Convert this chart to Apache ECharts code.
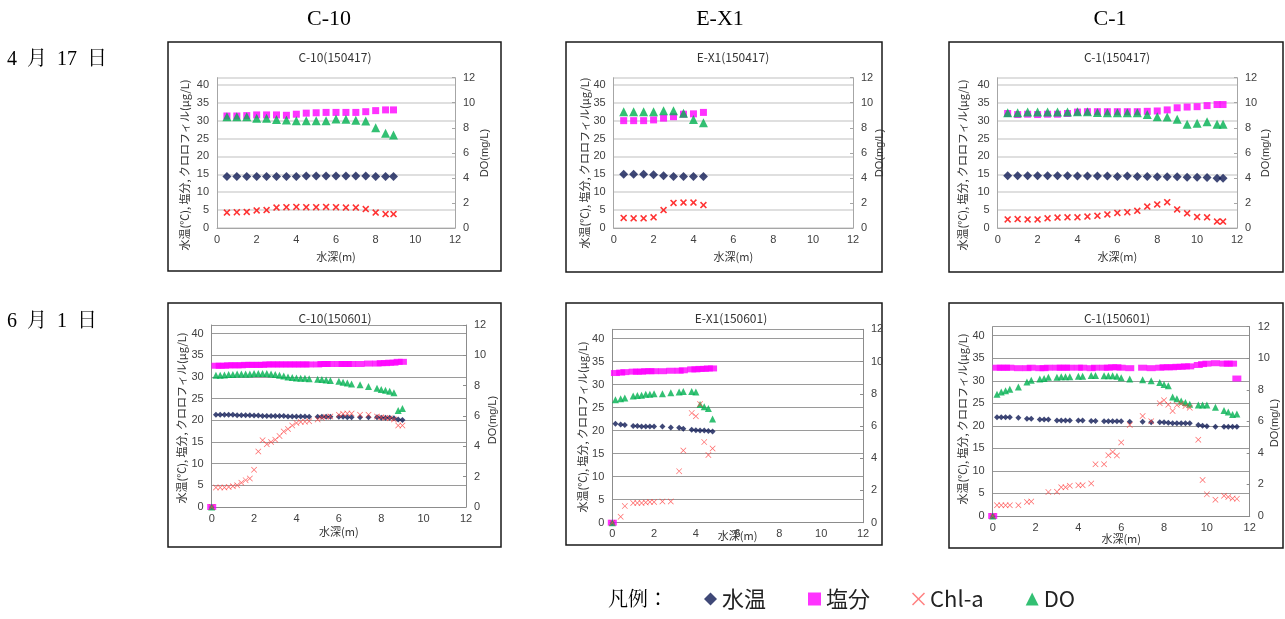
<!DOCTYPE html>
<html><head><meta charset="utf-8">
<script src="https://cdn.jsdelivr.net/npm/echarts@6/dist/echarts.min.js"></script>
<style>html,body{margin:0;padding:0;background:#fff}#c{width:1285px;height:619px}</style>
</head><body><div id="c"></div>
<script>
// ---------------- DATA ----------------
const columnNames = ['C-10', 'E-X1', 'C-1'];
const rowLabels = ['4  月  17  日', '6  月  1  日'];
const panelTitles = ['C-10(150417)', 'E-X1(150417)', 'C-1(150417)', 'C-10(150601)', 'E-X1(150601)', 'C-1(150601)'];
const legendNames = ['水温', '塩分', 'Chl-a', 'DO'];
const leftAxisName = '水温(℃), 塩分, クロロフィル(μg/L)';
const rightAxisName = 'DO(mg/L)';
const xAxisName = '水深(m)';

// C-10 2015-04-17
const c10_0417_depth = [0.5,1,1.5,2,2.5,3,3.5,4,4.5,5,5.5,6,6.5,7,7.5,8,8.5,8.9];
const c10_0417_temp  = [14.4,14.4,14.4,14.4,14.4,14.4,14.4,14.4,14.5,14.5,14.5,14.5,14.5,14.5,14.5,14.4,14.4,14.4];
const c10_0417_sal   = [31.3,31.3,31.4,31.6,31.6,31.6,31.5,31.8,32.1,32.2,32.3,32.3,32.3,32.3,32.5,32.8,33.0,33.0];
const c10_0417_chl   = [4.3,4.4,4.5,4.9,5.0,5.7,5.8,5.9,5.8,5.8,5.9,5.8,5.7,5.7,5.3,4.3,3.9,3.9];
const c10_0417_do    = [8.89,8.89,8.89,8.77,8.77,8.66,8.63,8.57,8.57,8.57,8.57,8.71,8.69,8.60,8.54,8.00,7.57,7.43];

// E-X1 2015-04-17
const ex1_0417_depth = [0.5,1,1.5,2,2.5,3,3.5,4,4.5];
const ex1_0417_temp  = [15.0,15.0,15.0,14.9,14.6,14.4,14.4,14.4,14.4];
const ex1_0417_sal   = [30.0,30.0,30.0,30.2,30.7,31.1,31.8,31.9,32.3];
const ex1_0417_chl   = [2.8,2.7,2.7,3.0,5.0,7.0,7.1,7.1,6.4];
const ex1_0417_do    = [9.29,9.29,9.29,9.29,9.37,9.37,9.17,8.66,8.40];

// C-1 2015-04-17
const c1_0417_depth = [0.5,1,1.5,2,2.5,3,3.5,4,4.5,5,5.5,6,6.5,7,7.5,8,8.5,9,9.5,10,10.5,11,11.3];
const c1_0417_temp  = [14.6,14.6,14.6,14.6,14.6,14.6,14.6,14.5,14.5,14.5,14.5,14.4,14.5,14.4,14.4,14.3,14.3,14.3,14.2,14.2,14.1,13.9,13.9];
const c1_0417_sal   = [32.0,31.7,31.8,31.7,31.8,31.8,32.0,32.4,32.5,32.5,32.5,32.5,32.5,32.5,32.6,32.7,33.0,33.6,33.8,33.9,34.2,34.5,34.5];
const c1_0417_chl   = [2.4,2.5,2.4,2.4,2.7,2.9,3.0,3.0,3.2,3.4,3.8,4.2,4.4,4.8,6.0,6.6,7.2,5.2,4.1,3.1,3.0,1.8,1.8];
const c1_0417_do    = [9.20,9.20,9.26,9.26,9.26,9.26,9.26,9.29,9.29,9.23,9.20,9.20,9.20,9.20,9.06,8.89,8.86,8.69,8.29,8.37,8.49,8.29,8.29];

// C-10 2015-06-01
const c10_0601_depth = [0,0.2,0.4,0.6,0.8,1.0,1.2,1.4,1.6,1.8,2.0,2.2,2.4,2.6,2.8,3.0,3.2,3.4,3.6,3.8,4.0,4.2,4.4,4.6,5.0,5.2,5.4,5.6,6.0,6.2,6.4,6.6,7.0,7.4,7.8,8.0,8.2,8.4,8.6,8.8,9.0];
const c10_0601_temp  = [0,21.3,21.3,21.3,21.3,21.3,21.2,21.2,21.2,21.2,21.1,21.1,21.0,21.0,21.0,21.0,21.0,21.0,20.9,20.9,20.9,20.9,20.9,20.8,20.8,20.8,20.8,20.8,20.8,20.8,20.7,20.7,20.7,20.7,20.7,20.6,20.6,20.6,20.5,20.2,20.1];
const c10_0601_sal   = [0,32.6,32.6,32.6,32.7,32.7,32.7,32.7,32.8,32.8,32.8,32.8,32.8,32.9,32.9,32.9,32.9,32.9,32.9,32.9,32.9,32.9,32.9,32.9,32.9,33.0,33.0,33.0,33.0,33.0,33.0,33.0,33.0,33.1,33.1,33.2,33.2,33.3,33.3,33.5,33.5];
const c10_0601_chl   = [0,4.5,4.5,4.5,4.6,4.8,5.0,5.6,6.2,6.6,8.6,12.8,15.4,14.5,15.0,15.5,16.4,17.4,18.0,18.8,19.4,19.6,19.7,19.8,20.2,20.6,20.8,20.9,21.3,21.5,21.6,21.6,21.3,21.3,20.9,20.7,20.6,20.5,20.2,18.8,18.8];
const c10_0601_do    = [0,8.69,8.69,8.71,8.74,8.74,8.77,8.77,8.77,8.77,8.80,8.80,8.80,8.80,8.77,8.74,8.69,8.63,8.57,8.54,8.51,8.49,8.49,8.46,8.43,8.40,8.37,8.34,8.29,8.23,8.17,8.11,8.06,7.94,7.83,7.74,7.69,7.63,7.54,6.37,6.49];

// E-X1 2015-06-01
const ex1_0601_depth     = [0,0.15,0.4,0.6,1.0,1.2,1.4,1.6,1.8,2.0,2.4,2.8,3.2,3.4,3.8,4.0,4.2,4.4,4.6,4.8];
const ex1_0601_temp      = [0,21.5,21.3,21.2,21.0,21.0,20.9,20.9,20.9,20.9,20.9,20.7,20.6,20.4,20.2,20.1,20.0,20.0,19.9,19.8];
const ex1_0601_sal       = [0,32.5,32.6,32.7,32.8,32.8,32.8,32.9,32.9,32.9,32.9,33.0,33.0,33.1,33.3,33.3,33.4,33.4,33.5,33.5];
const ex1_0601_do        = [0,7.63,7.69,7.74,7.86,7.89,7.91,7.97,7.97,8.00,8.00,8.06,8.11,8.14,8.14,8.11,7.34,7.20,7.09,6.43];
const ex1_0601_chl_depth = [0,0.4,0.6,1.0,1.2,1.4,1.6,1.8,2.0,2.4,2.8,3.2,3.4,3.8,4.0,4.2,4.4,4.6,4.8];
const ex1_0601_chl       = [0,1.3,3.6,4.3,4.3,4.3,4.4,4.5,4.5,4.6,4.6,11.2,15.7,23.8,23.1,25.8,17.5,14.7,16.1];

// C-1 2015-06-01
const c1_0601_depth     = [0,0.2,0.4,0.6,0.8,1.2,1.6,1.8,2.2,2.4,2.6,3.0,3.2,3.4,3.6,4.0,4.2,4.6,4.8,5.2,5.4,5.6,5.8,6.0,6.4,7.0,7.4,7.8,8.0,8.2,8.4,8.6,8.8,9.0,9.2,9.6,9.8,10.0,10.4,10.8,11.0,11.2,11.4];
const c1_0601_temp      = [0,21.9,21.9,21.9,21.9,21.8,21.6,21.6,21.4,21.4,21.4,21.2,21.2,21.2,21.2,21.2,21.2,21.1,21.1,21.0,21.0,21.0,21.0,21.0,20.9,20.9,20.8,20.8,20.8,20.7,20.6,20.6,20.6,20.6,20.6,20.2,20.0,19.9,19.8,19.8,19.8,19.8,19.8];
const c1_0601_sal       = [0,32.9,32.9,32.9,32.9,32.8,32.8,32.9,32.8,32.8,32.9,32.9,32.9,32.9,32.9,32.9,32.9,32.8,32.9,32.9,32.9,33.0,33.0,32.9,32.8,32.9,32.8,32.9,33.0,33.0,33.0,33.1,33.1,33.2,33.2,33.5,33.7,33.8,33.9,33.8,33.8,33.8,30.5];
const c1_0601_do        = [0,7.71,7.86,7.94,8.03,8.17,8.49,8.60,8.69,8.71,8.80,8.80,8.83,8.83,8.83,8.86,8.86,8.91,8.91,8.89,8.89,8.89,8.86,8.77,8.69,8.63,8.57,8.46,8.34,8.26,7.54,7.43,7.29,7.20,7.09,7.03,7.03,7.03,6.89,6.69,6.60,6.43,6.46];
const c1_0601_chl_depth = [0,0.2,0.4,0.6,0.8,1.2,1.6,1.8,2.6,3.0,3.2,3.4,3.6,4.0,4.2,4.6,4.8,5.2,5.4,5.6,5.8,6.0,6.4,7.0,7.4,7.8,8.0,8.2,8.4,8.6,8.8,9.0,9.2,9.6,9.8,10.0,10.4,10.8,11.0,11.2,11.4];
const c1_0601_chl       = [0,2.4,2.4,2.4,2.4,2.4,3.1,3.2,5.3,5.4,6.4,6.4,6.7,6.8,6.8,7.2,11.5,11.5,13.5,14.2,13.4,16.3,20.2,22.2,21.0,25.0,25.7,24.7,23.3,24.6,24.9,24.4,24.0,16.9,8.0,4.8,3.6,4.5,4.2,3.9,3.8];

// ---------------- PANEL ASSEMBLY ----------------
const panelData = [
  {d: c10_0417_depth, t: c10_0417_temp, s: c10_0417_sal, cd: c10_0417_depth, c: c10_0417_chl, o: c10_0417_do},
  {d: ex1_0417_depth, t: ex1_0417_temp, s: ex1_0417_sal, cd: ex1_0417_depth, c: ex1_0417_chl, o: ex1_0417_do},
  {d: c1_0417_depth,  t: c1_0417_temp,  s: c1_0417_sal,  cd: c1_0417_depth,  c: c1_0417_chl,  o: c1_0417_do},
  {d: c10_0601_depth, t: c10_0601_temp, s: c10_0601_sal, cd: c10_0601_depth, c: c10_0601_chl, o: c10_0601_do},
  {d: ex1_0601_depth, t: ex1_0601_temp, s: ex1_0601_sal, cd: ex1_0601_chl_depth, c: ex1_0601_chl, o: ex1_0601_do},
  {d: c1_0601_depth,  t: c1_0601_temp,  s: c1_0601_sal,  cd: c1_0601_chl_depth,  c: c1_0601_chl,  o: c1_0601_do}
];

// layout (pixels)
const layout = [
  {box:[168,42,333,229], grid:[217,77.7,238,150.3],     title:[335,51],  yName:[185,165], doName:[485,153], showDo:true,  xGap:23},
  {box:[566,42,316,230], grid:[613.7,77.7,239.3,150.3], title:[733,51],  yName:[585,163], doName:[880,153], showDo:true,  xGap:23},
  {box:[949,42,334,230], grid:[997.7,77.7,239.3,150.3], title:[1117,51], yName:[963,165], doName:[1266,153], showDo:true, xGap:23},
  {box:[168,303,333,244], grid:[211.7,325,254.3,182],   title:[335,312], yName:[182,418], doName:[493,420], showDo:true,  xGap:19},
  {box:[566,303,316,242], grid:[612.3,329.3,250.7,193.4], title:[731,312], yName:[583,427], doName:[0,0], showDo:false, xGap:8},
  {box:[949,303,334,245], grid:[992.7,326.7,257,189.3], title:[1117,312], yName:[963,419], doName:[1275,423], showDo:true, xGap:17}
];

const FONT = "'Liberation Sans','Noto Sans CJK JP',sans-serif";
const JFONT = "'Noto Sans CJK JP','Liberation Sans',sans-serif";
const SERIF = "'Liberation Serif','Noto Serif CJK JP','Noto Sans CJK JP',serif";
const X_BOLD = 'path://M0,1.6L1.6,0L5,3.4L8.4,0L10,1.6L6.6,5L10,8.4L8.4,10L5,6.6L1.6,10L0,8.4L3.4,5Z';
const X_THIN = 'path://M0,0.8L0.8,0L5,4.2L9.2,0L10,0.8L5.8,5L10,9.2L9.2,10L5,5.8L0.8,10L0,9.2L4.2,5Z';
const NAVY = '#0f1a55';

const rowStyle = [
  {grid:'#d4d4d4', gridW:1.5, axis:'#a6a6a6', temp:9, sal:[7,7], chl:7, chlSym:X_BOLD, chlColor:'#ff0000', dO:9},
  {grid:'#9a9a9a', gridW:1,   axis:'#8c8c8c', temp:6, sal:[9,6], chl:6, chlSym:X_THIN, chlColor:'#ff4040', dO:7}
];

const grids = [], xAxes = [], yAxes = [], series = [], graphics = [], titles = [];
const pairs = (xs, ys) => xs.map((x, i) => [x, ys[i]]);

panelData.forEach((pd, p) => {
  const L = layout[p], st = rowStyle[p < 3 ? 0 : 1];
  grids.push({left: L.grid[0], top: L.grid[1], width: L.grid[2], height: L.grid[3], containLabel: false});
  xAxes.push({
    type: 'value', gridIndex: p, min: 0, max: 12, interval: 2,
    axisLine: {show: true, lineStyle: {color: st.axis, width: 1}},
    axisTick: {show: false}, splitLine: {show: false},
    axisLabel: {fontSize: 11, color: '#404040', margin: 6, fontFamily: FONT},
    name: xAxisName, nameLocation: 'middle', nameGap: L.xGap, nameMoveOverlap: false,
    nameTextStyle: {fontSize: 11, color: '#333', fontFamily: JFONT, verticalAlign: 'top'}
  });
  yAxes.push({
    type: 'value', gridIndex: p, position: 'left', min: 0, max: 42, interval: 5,
    axisLine: {show: true, lineStyle: {color: st.axis, width: 1}},
    axisTick: {show: false},
    splitLine: {show: true, lineStyle: {color: st.grid, width: st.gridW}},
    axisLabel: {fontSize: 11, color: '#404040', margin: 8, fontFamily: FONT,
      formatter: v => (v % 5 === 0 ? String(v) : '')}
  });
  yAxes.push({
    type: 'value', gridIndex: p, position: 'right', min: 0, max: 12, interval: 2,
    axisLine: {show: true, lineStyle: {color: st.axis, width: 1}},
    axisTick: {show: true, inside: true, length: 3, lineStyle: {color: st.axis}},
    splitLine: {show: false},
    axisLabel: {fontSize: 11, color: '#404040', margin: 8, fontFamily: FONT}
  });
  series.push({type: 'scatter', name: legendNames[0], xAxisIndex: p, yAxisIndex: 2*p, symbol: 'diamond',
    symbolSize: st.temp, itemStyle: {color: NAVY}, data: pairs(pd.d, pd.t), z: 3});
  series.push({type: 'scatter', name: legendNames[1], xAxisIndex: p, yAxisIndex: 2*p, symbol: 'rect',
    symbolSize: st.sal, itemStyle: {color: '#ff00ff'}, data: pairs(pd.d, pd.s), z: 3});
  series.push({type: 'scatter', name: legendNames[2], xAxisIndex: p, yAxisIndex: 2*p, symbol: st.chlSym,
    symbolSize: st.chl, itemStyle: {color: st.chlColor}, data: pairs(pd.cd, pd.c), z: 4});
  series.push({type: 'scatter', name: legendNames[3], xAxisIndex: p, yAxisIndex: 2*p+1, symbol: 'triangle',
    symbolSize: st.dO, itemStyle: {color: '#00b050'}, data: pairs(pd.d, pd.o), z: 3});

  graphics.push({type: 'rect', z: 0, shape: {x: L.box[0], y: L.box[1], width: L.box[2], height: L.box[3]},
    style: {fill: '#fff', stroke: '#1a1a1a', lineWidth: 1.5}});
  graphics.push({type: 'text', z: 10, x: L.yName[0], y: L.yName[1], rotation: Math.PI / 2,
    style: {text: leftAxisName, font: '11px ' + JFONT, fill: '#333', textAlign: 'center', textVerticalAlign: 'middle', align: 'center', verticalAlign: 'middle'}});
  if (L.showDo) {
    graphics.push({type: 'text', z: 10, x: L.doName[0], y: L.doName[1], rotation: Math.PI / 2,
      style: {text: rightAxisName, font: '11px ' + FONT, fill: '#333', textAlign: 'center', textVerticalAlign: 'middle', align: 'center', verticalAlign: 'middle'}});
  }
  titles.push({text: panelTitles[p], left: L.title[0], top: L.title[1], textAlign: 'center', padding: 0,
    textStyle: {fontSize: 12, fontWeight: 'normal', color: '#333', fontFamily: JFONT}});
});

// column headers and row labels
const headerX = [329, 720, 1110];
columnNames.forEach((n, i) => titles.push({text: n, left: headerX[i], top: 8, textAlign: 'center', padding: 0,
  textStyle: {fontSize: 22, fontWeight: 'normal', color: '#000', fontFamily: SERIF}}));
const rowY = [50, 312];
rowLabels.forEach((n, i) => titles.push({text: n, left: 7, top: rowY[i], padding: 0,
  textStyle: {fontSize: 20, fontWeight: 'normal', color: '#000', fontFamily: SERIF}}));
graphics.push({type: 'text', z: 10, x: 608, y: 601,
  style: {text: '凡例：', font: '20px ' + SERIF, fill: '#000', textAlign: 'left', textVerticalAlign: 'middle', align: 'left', verticalAlign: 'middle'}});

const chart = echarts.init(document.getElementById('c'), null, {renderer: 'canvas'});
chart.setOption({
  backgroundColor: '#fff',
  animation: false,
  title: titles,
  grid: grids,
  xAxis: xAxes,
  yAxis: yAxes,
  series: series,
  graphic: {elements: graphics},
  legend: {
    left: 704, top: 588, padding: 0, itemGap: 42, itemWidth: 13, itemHeight: 13,
    selectedMode: false,
    textStyle: {fontSize: 22, color: '#222', fontFamily: JFONT},
    data: [
      {name: legendNames[0], icon: 'diamond', itemStyle: {color: NAVY}},
      {name: legendNames[1], icon: 'rect', itemStyle: {color: '#ff00ff'}},
      {name: legendNames[2], icon: X_THIN, itemStyle: {color: '#ff6060'}},
      {name: legendNames[3], icon: 'triangle', itemStyle: {color: '#00b050'}}
    ]
  }
});
</script></body></html>
